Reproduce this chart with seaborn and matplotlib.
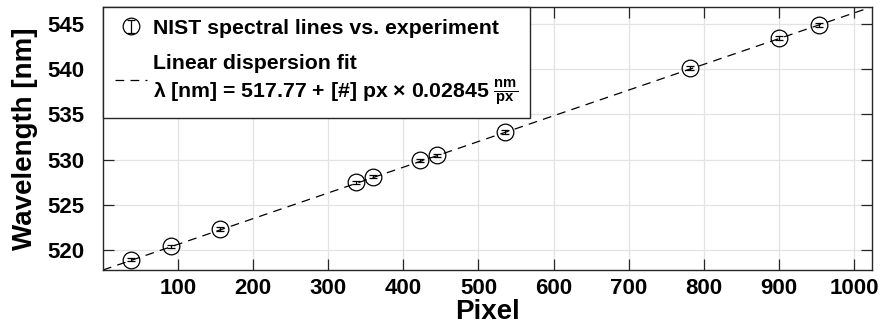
import numpy as np
import pandas as pd
import seaborn as sns
import matplotlib
matplotlib.use("Agg")
import matplotlib.pyplot as plt
from matplotlib.legend_handler import HandlerErrorbar
from matplotlib.container import ErrorbarContainer

# Data
pixel = [37, 91, 156, 337, 359, 422, 445, 535, 782, 900, 953]
wavelength = [518.9, 520.4, 522.3, 527.46, 528.08, 529.9, 530.45, 533.05, 540.14, 543.46, 544.9]
wl_err = [0.18] * 11
fit_intercept = 517.77
fit_slope = 0.02845
fit_px = [0, 1023]

sns.set_theme(style="whitegrid")
plt.rcParams['font.family'] = ['Liberation Sans', 'DejaVu Sans']
plt.rcParams['font.weight'] = 'bold'
plt.rcParams['text.color'] = 'black'
plt.rcParams['axes.labelcolor'] = 'black'
plt.rcParams['xtick.color'] = 'black'
plt.rcParams['ytick.color'] = 'black'
plt.rcParams['mathtext.fontset'] = 'custom'
plt.rcParams['mathtext.rm'] = 'Liberation Sans:bold'
plt.rcParams['mathtext.it'] = 'Liberation Sans:bold'
plt.rcParams['mathtext.bf'] = 'Liberation Sans:bold'

df = pd.DataFrame({"Pixel": pixel, "Wavelength": wavelength, "err": wl_err})
fit_df = pd.DataFrame({"Pixel": fit_px,
                       "Wavelength": [fit_intercept + fit_slope * p for p in fit_px]})

fig = plt.figure(figsize=(8.84, 3.35), dpi=100)
ax = fig.add_axes([103 / 884, 1 - 270 / 335, (872 - 103) / 884, (270 - 7) / 335])

sns.lineplot(data=fit_df, x="Pixel", y="Wavelength", ax=ax, color="black",
             linestyle=(0, (7, 5)), linewidth=0.9, zorder=2,
             label="Linear dispersion fit\nλ [nm] = 517.77 + [#] px × 0.02845 $\\frac{nm}{px}$")
eb = ax.errorbar(df["Pixel"], df["Wavelength"], yerr=df["err"], fmt="o",
                 mfc="none", mec="black", ms=12, mew=0.9, ecolor="black",
                 elinewidth=0.9, capsize=2.6, capthick=0.9, zorder=3,
                 label="NIST spectral lines vs. experiment")

ax.set_xlim(0, 1024)
ax.set_ylim(517.77, 546.88)
ax.set_xticks([100, 200, 300, 400, 500, 600, 700, 800, 900, 1000])
ax.set_yticks([520, 525, 530, 535, 540, 545])
ax.grid(True, color="#e3e3e3", linewidth=0.9)
for s in ax.spines.values():
    s.set_color("#262626")
    s.set_linewidth(1.0)
    s.set_visible(True)
ax.tick_params(axis="both", direction="in", length=8, width=0.9, color="#262626",
               labelcolor="black", labelsize=16, top=True, right=True, bottom=True, left=True)
ax.tick_params(axis="x", pad=6)
ax.tick_params(axis="y", pad=13)
for lab in ax.get_xticklabels() + ax.get_yticklabels():
    lab.set_fontweight("bold")
ax.set_xlabel("Pixel", fontsize=20, fontweight="bold", labelpad=0, color="black")
ax.set_ylabel("Wavelength [nm]", fontsize=20, fontweight="bold", labelpad=7, color="black")

handles, labels = ax.get_legend_handles_labels()
order = [labels.index("NIST spectral lines vs. experiment"),
         labels.index([l for l in labels if l.startswith("Linear")][0])]
leg = ax.legend([handles[i] for i in order], [labels[i] for i in order],
                loc="upper left", bbox_to_anchor=(0, 1), borderaxespad=0,
                prop={"weight": "bold", "size": 15.3}, frameon=True, fancybox=False,
                framealpha=1, edgecolor="#262626", handlelength=1.5,
                handletextpad=0.3, labelspacing=0.75, borderpad=0.55,
                handler_map={ErrorbarContainer: HandlerErrorbar(yerr_size=0.3)})
leg.get_frame().set_linewidth(1.0)
for t in leg.get_texts():
    t.set_color("black")

fig.savefig("out.png", dpi=100)
